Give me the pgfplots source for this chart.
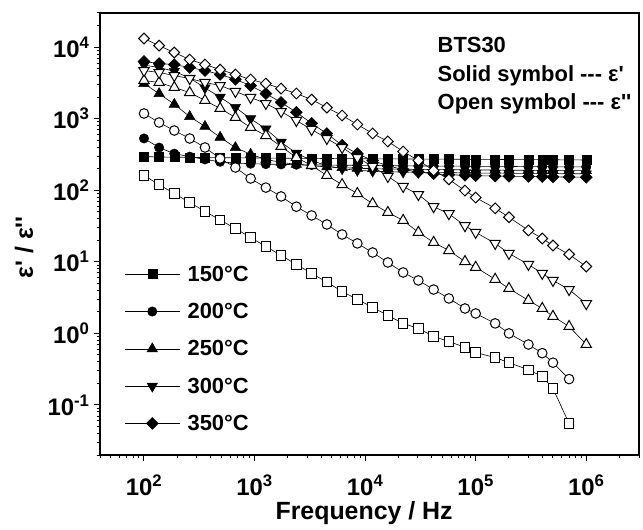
\documentclass[border=0pt]{standalone}
\usepackage{fontspec}
\usepackage{pgfplots}
\usepackage{pgfplotstable}
\pgfplotsset{compat=1.18}
\setmainfont{Liberation Sans}
\newfontfamily\lsans{Liberation Sans}

\pgfplotstableread{
f Fsq Fci Ftu Ftd Fdi Osq Oci Otu Otd Odi
100 296 530 3100 5600 6300 161 1183 3420 4710 13200
137 292 395 2240 5200 5900 120 885 3210 4420 10500
188 290 325 1590 4600 5700 90 684 2730 4010 8410
259 288 295 1070 3700 5200 67.6 529 2320 3640 6710
356 286 270 780 2700 4700 50.6 396 1800 3210 5710
488 285 250 550 2000 4150 38.5 278 1390 2910 4860
671 284 240 395 1440 3550 29.2 208 1040 2400 4140
921 283 235 318 1000 2900 21.9 146 754 1980 3530
1265 282 232 270 720 2240 16.4 109 582 1630 3100
1738 281 230 245 470 1690 12.3 82 409 1260 2640
2388 280 228 230 330 1230 9.2 59 287 944 2250
3281 279 226 220 260 860 6.9 44.5 222 707 1850
4507 278 225 212 220 620 5.2 33.3 161 529 1430
6193 277 224 207 200 425 3.86 24.1 120 396 1110
8508 276 223 203 190 325 2.99 18.1 90 287 830
11690 275 222 200 185 260 2.31 13.5 65 215 621
16060 275 221 198 182 220 1.78 9.8 49 156 481
22070 274 220 197 180 195 1.38 7.1 37.9 113 348
30320 273 219 196 178 180 1.17 5.5 25.8 87 261
41650 272 218 195 177 170 0.91 4.1 18.7 59 189
57230 272 218 194 176 165 0.77 3.08 14.4 47 142
80000 271 217 193 175 162 0.64 2.23 10.1 32 99
100000 270 216 192 174 160 0.54 1.90 8.4 25.8 79
150000 270 216 192 174 158 0.46 1.38 5.7 18.1 56
200000 269 215 191 173 157 0.39 1.0 4.25 13.1 42
300000 268 214 190 172 156 0.31 0.70 2.89 9.2 27.5
400000 268 214 190 172 155 0.25 0.53 2.23 6.9 21.2
500000 267 213 189 171 154 0.17 0.39 1.73 5.5 16.9
700000 266 212 188 170 153 0.055 0.23 1.25 4.1 12.7
1000000 265 212 188 170 152 nan nan 0.70 2.6 8.6
}\datatab

\begin{document}
\begin{tikzpicture}
\begin{axis}[
  scale only axis,
  width=539bp, height=442bp,
  xmode=log, ymode=log,
  xmin=40, xmax=3e6, ymin=0.02, ymax=3e4,
  clip=false,
  axis line style={line width=1.3bp},
  tick pos=left,
  tick align=outside,
  major tick length=6bp,
  minor tick length=3.5bp,
  every tick/.style={black, line width=1bp},
  xtick={1e2,1e3,1e4,1e5,1e6},
  xticklabels={10\textsuperscript{2},10\textsuperscript{3},10\textsuperscript{4},10\textsuperscript{5},10\textsuperscript{6}},
  ytick={0.1,1,10,100,1000,10000},
  yticklabels={10\textsuperscript{-1},10\textsuperscript{0},10\textsuperscript{1},10\textsuperscript{2},10\textsuperscript{3},10\textsuperscript{4}},
  minor xtick={40,50,60,70,80,90,200,300,400,500,600,700,800,900,2000,3000,4000,5000,6000,7000,8000,9000,20000,30000,40000,50000,60000,70000,80000,90000,200000,300000,400000,500000,600000,700000,800000,900000,2000000,3000000},
  minor ytick={0.02,0.03,0.04,0.05,0.06,0.07,0.08,0.09,0.2,0.3,0.4,0.5,0.6,0.7,0.8,0.9,2,3,4,5,6,7,8,9,20,30,40,50,60,70,80,90,200,300,400,500,600,700,800,900,2000,3000,4000,5000,6000,7000,8000,9000,20000,30000},
  ticklabel style={font=\lsans\bfseries\fontsize{24}{24}\selectfont},
  xticklabel style={yshift=-10bp},
  yticklabel style={xshift=-1bp},
  xlabel={Frequency / Hz},
  ylabel={ε' / ε''},
  every axis x label/.style={at={(rel axis cs:0.49,0)}, yshift=-58bp, anchor=center, font=\lsans\bfseries\fontsize{25}{25}\selectfont},
  every axis y label/.style={at={(rel axis cs:0,0.47)}, xshift=-76bp, rotate=90, anchor=center, font=\lsans\bfseries\fontsize{25}{25}\selectfont},
  legend style={draw=none, fill=none, at={(rel axis cs:0.046,0.052)}, anchor=south west,
     font=\lsans\bfseries\fontsize{22}{22}\selectfont, row sep=20.5bp, inner sep=0pt,
     nodes={inner xsep=7bp, inner ysep=0pt}},
  legend cell align=left,
  legend image code/.code={\draw[mark repeat=2,mark phase=2] plot coordinates {(0bp,0bp) (27bp,0bp) (55bp,0bp)};},
  every axis plot/.append style={black, line width=0.6bp},
]
% filled symbols: epsilon'
\addplot[mark=square*, mark size=4.5bp, mark options={solid, line width=0.5bp}] table[x=f,y=Fsq]{\datatab};
\addlegendentry{150°C}
\addplot[mark=*, mark size=4.7bp, mark options={solid, line width=0.5bp}] table[x=f,y=Fci]{\datatab};
\addlegendentry{200°C}
\addplot[mark=triangle*, mark size=6bp, mark options={solid, line width=0.5bp}] table[x=f,y=Ftu]{\datatab};
\addlegendentry{250°C}
\addplot[mark=triangle*, mark size=6bp, mark options={solid, rotate=180, line width=0.5bp}] table[x=f,y=Ftd]{\datatab};
\addlegendentry{300°C}
\addplot[mark=square*, mark size=4.2bp, mark options={solid, rotate=45, line width=0.5bp}] table[x=f,y=Fdi]{\datatab};
\addlegendentry{350°C}
% open symbols: epsilon''
\addplot[mark=square*, mark size=4.8bp, mark options={solid, fill=white, line width=1bp}, forget plot] table[x=f,y=Osq]{\datatab};
\addplot[mark=*, mark size=4.8bp, mark options={solid, fill=white, line width=1bp}, forget plot] table[x=f,y=Oci]{\datatab};
\addplot[mark=triangle*, mark size=6bp, mark options={solid, fill=white, line width=1bp}, forget plot] table[x=f,y=Otu]{\datatab};
\addplot[mark=triangle*, mark size=6bp, mark options={solid, fill=white, rotate=180, line width=1bp}, forget plot] table[x=f,y=Otd]{\datatab};
\addplot[mark=square*, mark size=3.8bp, mark options={solid, fill=white, rotate=45, line width=1bp}, forget plot] table[x=f,y=Odi]{\datatab};
% annotation
\node[anchor=west, font=\lsans\bfseries\fontsize{22}{22}\selectfont] at (rel axis cs:0.62,0.928) {BTS30};
\node[anchor=west, font=\lsans\bfseries\fontsize{22}{22}\selectfont] at (rel axis cs:0.62,0.857) {Solid symbol --- ε'};
\node[anchor=west, font=\lsans\bfseries\fontsize{22}{22}\selectfont] at (rel axis cs:0.62,0.794) {Open symbol --- ε''};
% bounding box
\path (rel axis cs:0,0) ++(-100bp,-75bp);
\path (rel axis cs:1,1) ++(4bp,13bp);
\end{axis}
\end{tikzpicture}
\end{document}
